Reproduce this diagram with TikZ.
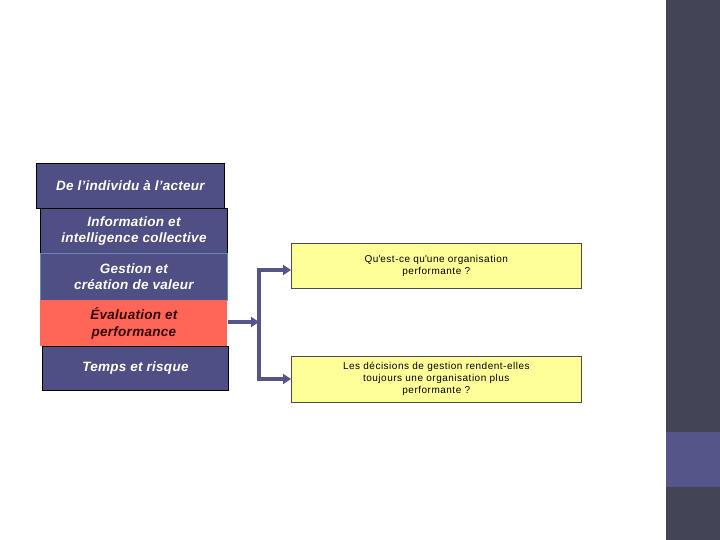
\documentclass[tikz,border=0pt]{standalone}
\usepackage{fontspec}
\setmainfont{Liberation Sans}
\usetikzlibrary{arrows.meta}
\definecolor{boxblue}{HTML}{4F4F86}
\definecolor{boxred}{HTML}{FF6657}
\definecolor{qyellow}{HTML}{FFFF99}
\definecolor{arrowc}{HTML}{55558A}
\definecolor{sidedark}{HTML}{444457}
\definecolor{sidelight}{HTML}{55558A}
\tikzset{
  themebox/.style={draw=black, line width=0.8pt, fill=boxblue, text=white, font=\bfseries\itshape\fontsize{13.5}{16.5}\selectfont\addfontfeatures{LetterSpace=2}, align=center, anchor=north west, inner sep=0pt},
  qbox/.style={draw=black!70, line width=0.6pt, fill=qyellow, font=\fontsize{10}{12}\selectfont\addfontfeatures{LetterSpace=5}, align=center, anchor=north west, inner sep=0pt, minimum width=290pt, minimum height=45pt},
  conn/.style={draw=arrowc, line width=3.2pt, -{Triangle[length=8pt,width=10pt]}},
}
\begin{document}
\begin{tikzpicture}[x=1pt,y=-1pt]
\useasboundingbox (0,0) rectangle (720,540);
\fill[white] (0,0) rectangle (720,540);
% sidebar
\fill[sidedark] (666,0) rectangle (720,540);
\fill[sidelight] (666,432) rectangle (720,487);
% theme boxes
\node[themebox, minimum width=188pt, minimum height=45pt] (b1) at (36,163) {De l’individu à l’acteur};
\node[themebox, minimum width=187pt, minimum height=45pt] (b2) at (40,208) {Information et\\intelligence collective};
\node[themebox, draw=cyan!40!boxblue, minimum width=187pt, minimum height=47pt] (b3) at (40,253) {Gestion et\\création de valeur};
\node[themebox, draw=none, fill=boxred, text=black!80!red, minimum width=187pt, minimum height=46pt] (b4) at (40,300) {Évaluation et\\performance};
\node[themebox, minimum width=186pt, minimum height=44pt] (b5) at (42,346) {Temps et risque};
% question boxes
\node[qbox] (q1) at (291,243) {Qu\textquotesingle est-ce qu\textquotesingle une organisation\\performante ?};
\node[qbox, minimum height=46pt] (q2) at (291,356) {Les décisions de gestion rendent-elles\\toujours une organisation plus\\performante ?};
% connectors
\coordinate (j) at (259,322);
\coordinate (jt) at (259,270);
\coordinate (jb) at (259,379);
\draw[conn] (b4.east |- j) -- (j);
\draw[draw=arrowc, line width=3.2pt] (jt) -- (jb);
\draw[conn] ([xshift=-1.6pt]jt) -- (q1.west |- jt);
\draw[conn] ([xshift=-1.6pt]jb) -- (q2.west |- jb);
\end{tikzpicture}
\end{document}
